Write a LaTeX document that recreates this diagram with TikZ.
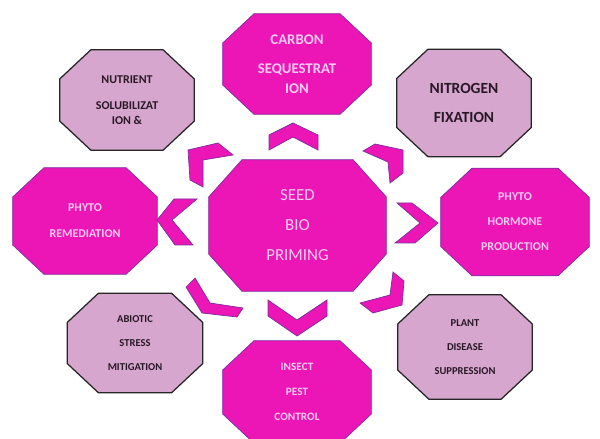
\documentclass[tikz,border=0pt]{standalone}
\usepackage{fontspec}
\setmainfont{Carlito}
\definecolor{hotpink}{RGB}{236,22,182}
\definecolor{lilac}{RGB}{214,166,206}
\definecolor{rimpurple}{RGB}{125,45,160}
\definecolor{paletext}{RGB}{248,204,240}
\definecolor{darktext}{RGB}{40,24,38}
\tikzset{octo/.style 2 args={rectangle, inner sep=0pt, align=center,
    path picture={\draw[octoline]
      ([xshift=#1, yshift=-0.5pt]path picture bounding box.north west) --
      ([xshift=-#1, yshift=-0.5pt]path picture bounding box.north east) --
      ([xshift=-0.5pt, yshift=-#2]path picture bounding box.north east) --
      ([xshift=-0.5pt, yshift=#2]path picture bounding box.south east) --
      ([xshift=-#1, yshift=0.5pt]path picture bounding box.south east) --
      ([xshift=#1, yshift=0.5pt]path picture bounding box.south west) --
      ([xshift=0.5pt, yshift=#2]path picture bounding box.south west) --
      ([xshift=0.5pt, yshift=-#2]path picture bounding box.north west) -- cycle;}},
  hotbox/.style={octo={0.8cm}{0.75cm}, text=paletext,
    octoline/.style={fill=hotpink, draw=rimpurple, line width=0.5pt}},
  lilacbox/.style={octo={0.8cm}{0.75cm}, text=darktext,
    octoline/.style={fill=lilac, draw=black!85, line width=0.9pt}},
  chev/.style={fill=hotpink, draw=rimpurple, line width=0.5pt}}

\begin{document}
\begin{tikzpicture}[x=0.025cm, y=-0.025cm]
  \useasboundingbox (0,0) rectangle (600,439);
  \clip (0,0) rectangle (600,439);
  \node[hotbox, octo={0.85cm}{0.95cm}, minimum width=4.475cm, minimum height=3.325cm,
    font=\fontsize{12}{21.3}\selectfont] (seed) at (297.5,225.5) {SEED\\BIO\\PRIMING};
  \node[hotbox, minimum width=3.75cm, minimum height=2.55cm, font=\bfseries\fontsize{10.5}{14}\selectfont]
    (carbon) at (297,64) {CARBON\\[6.5pt]SEQUESTRAT\\ION};
  \node[lilacbox, minimum width=3.4cm, minimum height=2.55cm, font=\bfseries\fontsize{8.5}{10.7}\selectfont]
    (nutrient) at (127,100) {NUTRIENT\\[7.8pt]SOLUBILIZAT\\ION \&};
  \node[lilacbox, minimum width=3.4cm, minimum height=2.725cm, font=\bfseries\fontsize{11}{20.6}\selectfont]
    (nitrogen) at (464,103) {NITROGEN\\FIXATION};
  \node[hotbox, minimum width=3.65cm, minimum height=2.7cm, font=\bfseries\fontsize{8.5}{18.5}\selectfont]
    (remed) at (85,221) {PHYTO\\REMEDIATION};
  \node[hotbox, minimum width=3.75cm, minimum height=2.725cm, font=\bfseries\fontsize{8.5}{17.8}\selectfont]
    (hormone) at (515,222) {PHYTO\\HORMONE\\PRODUCTION};
  \node[lilacbox, minimum width=3.425cm, minimum height=2.525cm, font=\bfseries\fontsize{7.5}{17}\selectfont]
    (abiotic) at (135,343) {ABIOTIC\\STRESS\\MITIGATION};
  \node[lilacbox, minimum width=3.4cm, minimum height=2.65cm, font=\bfseries\fontsize{7.5}{17}\selectfont]
    (plant) at (465,347) {PLANT\\DISEASE\\SUPPRESSION};
  \node[hotbox, minimum width=3.75cm, minimum height=2.6cm, font=\bfseries\fontsize{8}{17.8}\selectfont]
    (insect) at (297,392) {INSECT\\PEST\\CONTROL};
  \draw[chev] (293,123) -- (269,135) -- (269,150) -- (293,137) -- (318,150) -- (318,135) -- cycle;
  \draw[chev] (438,223) -- (412,203) -- (397,203) -- (420,223) -- (395,243) -- (415,243) -- cycle;
  \draw[chev] (157,220) -- (174,199) -- (197,199) -- (172,220) -- (193,245) -- (175,245) -- cycle;
  \draw[chev] (297,336) -- (268,316) -- (268,300) -- (297,320) -- (327,300) -- (327,316) -- cycle;
  \draw[chev] (188,150) -- (218,143) -- (233,155) -- (203,160) -- (203,187) -- (190,180) -- cycle;
  \draw[chev] (403,150) -- (403,173) -- (390,183) -- (388,162) -- (363,151) -- (375,144) -- cycle;
  \draw[chev] (186,287) -- (195,278) -- (210,303) -- (243,308) -- (237,317) -- (202,313) -- cycle;
  \draw[chev] (404,281) -- (402,305) -- (373,313) -- (360,303) -- (390,295) -- (393,272) -- cycle;
\end{tikzpicture}
\end{document}
